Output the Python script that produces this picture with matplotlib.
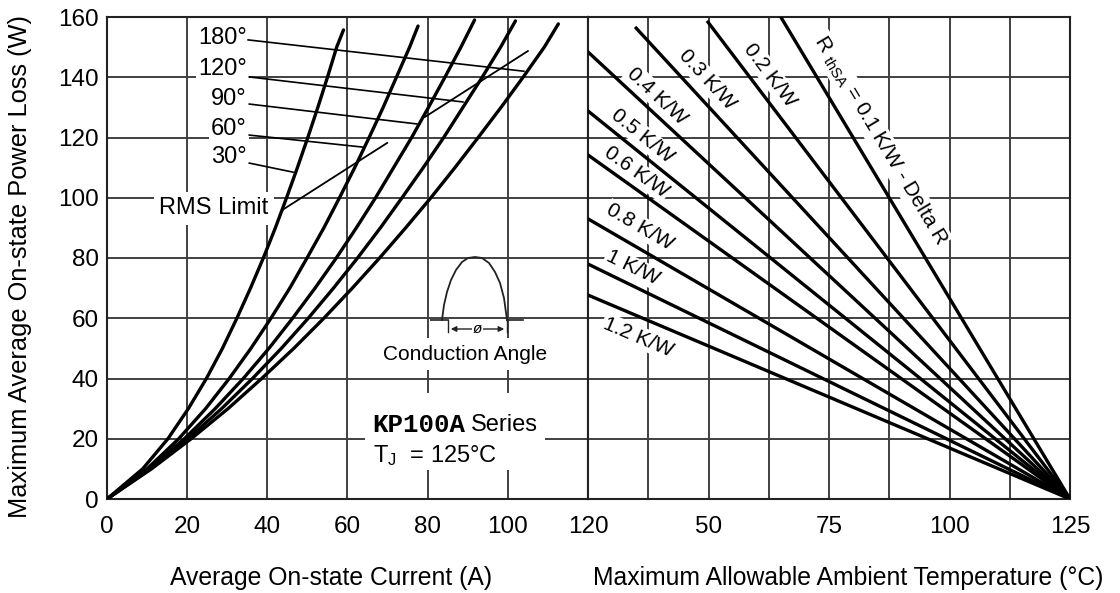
import matplotlib
matplotlib.use('Agg')
import matplotlib.pyplot as plt
import numpy as np
from matplotlib.patches import Rectangle

plt.rcParams['font.family'] = ['Liberation Sans', 'DejaVu Sans']
plt.rcParams['mathtext.fontset'] = 'custom'
plt.rcParams['mathtext.rm'] = 'Liberation Sans'
plt.rcParams['mathtext.it'] = 'Liberation Sans:italic'

# left panel: power loss vs average on-state current, one curve per conduction angle
angles = ['30°', '60°', '90°', '120°', '180°']
power_levels = [0, 10, 20, 30, 40, 50, 60, 70, 80, 90, 100, 110, 120, 130, 140, 150]
current_30 = [0, 8.9, 15.2, 20.3, 24.8, 28.8, 32.4, 35.8, 39.0, 42.0, 44.8, 47.5, 50.1, 52.6, 55.0, 57.3]
current_60 = [0, 10.0, 17.9, 24.6, 30.5, 35.9, 40.9, 45.6, 49.9, 54.1, 58.0, 61.8, 65.4, 68.9, 72.2, 75.5]
current_90 = [0, 10.5, 19.3, 27.0, 34.0, 40.4, 46.3, 51.9, 57.2, 62.2, 67.0, 71.5, 76.0, 80.2, 84.3, 88.3]
current_120 = [0, 10.8, 20.2, 28.6, 36.3, 43.5, 50.2, 56.5, 62.5, 68.2, 73.6, 78.9, 84.0, 88.8, 93.6, 98.2]
current_180 = [0, 11.1, 21.0, 30.2, 38.6, 46.6, 54.1, 61.2, 68.0, 74.5, 80.8, 86.8, 92.6, 98.3, 103.8, 109.1]
end_current = [59.0, 77.6, 91.7, 101.9, 112.6]
end_power = [155.7, 157.0, 159.0, 158.7, 157.7]

# leader lines from angle labels to curves (current, power)
leader_start_current = [35.5, 35.5, 35.5, 35.5, 35.2]
leader_start_power = [111.5, 120.8, 131.1, 140.1, 152.4]
leader_end_current = [46.4, 63.9, 77.3, 88.8, 104.0]
leader_end_power = [108.5, 116.8, 124.5, 131.8, 142.0]
label_power = [113.5, 122.8, 132.8, 142.7, 153.0]

# RMS limit segments
rms_current = [[43.7, 69.9], [79.3, 105.0]]
rms_power = [[95.9, 118.2], [126.8, 148.7]]

# right panel: thermal resistance lines
rth_names = ['0.1', '0.2', '0.3', '0.4', '0.5', '0.6', '0.8', '1', '1.2']
rth_start_temp = [65.0, 49.9, 35.0, 25, 25, 25, 25, 25, 25]
rth_start_power = [160.0, 158.3, 156.3, 148.4, 128.8, 114.2, 93.0, 78.0, 67.7]
rth_end_temp = 125
rth_end_power = 0
rth_label_temp = [85.6, 62.8, 49.7, 39.3, 36.2, 35.0, 35.8, 34.3, 35.4]
rth_label_power = [119.2, 140.7, 139.1, 133.8, 120.5, 108.5, 90.3, 76.7, 53.8]

# conduction angle pulse sketch (inset pixel units)
pulse_u = [14, 16, 19, 23, 28, 34, 40, 47, 54, 61, 67, 72, 76, 79]
pulse_v = [20, 35, 48, 60, 70, 78, 82, 83, 82, 77, 68, 57, 42, 20]

W, H = 1120, 593
fig = plt.figure(figsize=(W / 100, H / 100), dpi=100)
axl = fig.add_axes([107 / W, 94 / H, 481 / W, 482 / H])
axr = fig.add_axes([588 / W, 94 / H, 482 / W, 482 / H])

grid_kw = dict(color='#404040', lw=1.4)
for ax in (axl, axr):
    ax.set_ylim(0, 160)
    ax.set_yticks(range(0, 161, 20))
    ax.grid(True, **grid_kw)
    ax.set_axisbelow(True)
    ax.tick_params(length=0, labelsize=17.5, pad=12, axis='x')
    ax.tick_params(length=0, labelsize=17.5, pad=6, axis='y')
    for s in ax.spines.values():
        s.set_linewidth(1.5)
        s.set_color('#222222')

axl.set_xlim(0, 120)
axl.set_xticks(range(0, 121, 20))
axr.set_xlim(25, 125)
axr.set_xticks(np.arange(25, 126, 12.5))
axr.set_xticklabels(['', '', '50', '', '75', '', '100', '', '125'])
axr.set_yticklabels([])

curves = [current_30, current_60, current_90, current_120, current_180]
for i, cur in enumerate(curves):
    axl.plot(cur + [end_current[i]], power_levels + [end_power[i]],
             color='black', lw=2.4, zorder=4, solid_capstyle='round', solid_joinstyle='round')
    axl.plot([leader_start_current[i], leader_end_current[i]],
             [leader_start_power[i], leader_end_power[i]], color='black', lw=1.2, zorder=4)
    axl.text(34.9, label_power[i], angles[i], ha='right', va='center', fontsize=17,
             zorder=3, bbox=dict(facecolor='white', edgecolor='none', pad=1.5))

for xs, ys in zip(rms_current, rms_power):
    axl.plot(xs, ys, color='black', lw=1.3, zorder=4)
axl.text(26.7, 96.5, 'RMS Limit', ha='center', va='center', fontsize=17, zorder=3,
         bbox=dict(facecolor='white', edgecolor='none', pad=4))

# series text block
axl.add_patch(Rectangle((64.4, 9.6), 44.9, 25.6, facecolor='white', edgecolor='none', zorder=2))
axl.text(89.3, 24.6, 'KP100A', ha='right', va='center', fontsize=18.5, fontweight='bold',
         family='Liberation Mono', zorder=3)
axl.text(90.8, 24.6, 'Series', ha='left', va='center', fontsize=17, zorder=3)
axl.text(66.4, 14.3, r'T$_\mathregular{J}$  = 125°C', ha='left', va='center', fontsize=17, zorder=3)

axl.text(89.3, 48.1, 'Conduction Angle', ha='center', va='center', fontsize=15, zorder=3,
         bbox=dict(facecolor='white', edgecolor='none', pad=5))

# right panel lines and labels
for i in range(len(rth_names)):
    axr.plot([rth_start_temp[i], rth_end_temp], [rth_start_power[i], rth_end_power],
             color='black', lw=2.4, zorder=4)
    p0 = axr.transData.transform((rth_start_temp[i], rth_start_power[i]))
    p1 = axr.transData.transform((rth_end_temp, rth_end_power))
    ang = np.degrees(np.arctan2(p1[1] - p0[1], p1[0] - p0[0]))
    if rth_names[i] == '0.1':
        txt = r'R $_\mathregular{thSA}$ = 0.1 K/W - Delta R'
    else:
        txt = rth_names[i] + ' K/W'
    axr.text(rth_label_temp[i], rth_label_power[i], txt, rotation=ang, rotation_mode='anchor',
             ha='center', va='center', fontsize=15, zorder=3,
             bbox=dict(facecolor='white', edgecolor='none', pad=1))

# inset pulse sketch
axi = fig.add_axes([430 / W, 1 - 345 / H, 100 / W, 97 / H])
axi.set_xlim(2, 102)
axi.set_ylim(-5, 92)
axi.axis('off')
axi.patch.set_visible(True)
axi.set_facecolor('white')
axi.plot([2, 20], [20, 20], color='#222222', lw=1.2)
axi.plot([79, 95], [20, 20], color='#222222', lw=1.2)
axi.plot(pulse_u, pulse_v, color='#222222', lw=1.3)
axi.plot([20, 20], [20, 8], color='#222222', lw=1.0)
axi.plot([79, 79], [20, 8], color='#222222', lw=1.0)
axi.annotate('', xy=(20, 11), xytext=(49, 11),
             arrowprops=dict(arrowstyle='-|>', color='#222222', lw=1.0, mutation_scale=8))
axi.annotate('', xy=(79, 11), xytext=(49, 11),
             arrowprops=dict(arrowstyle='-|>', color='#222222', lw=1.0, mutation_scale=8))
axi.text(49.5, 11, 'ø', ha='center', va='center', fontsize=11, style='italic',
         bbox=dict(facecolor='white', edgecolor='none', pad=0.5))

fig.text(331 / W, 1 - 578 / H, 'Average On-state Current (A)', ha='center', va='center', fontsize=17.8)
fig.text(848 / W, 1 - 578 / H, 'Maximum Allowable Ambient Temperature (°C)', ha='center',
         va='center', fontsize=17.8)
fig.text(20 / W, 1 - 267 / H, 'Maximum Average On-state Power Loss (W)', ha='center',
         va='center', rotation=90, fontsize=18.3)

fig.savefig('out.png', dpi=100)
